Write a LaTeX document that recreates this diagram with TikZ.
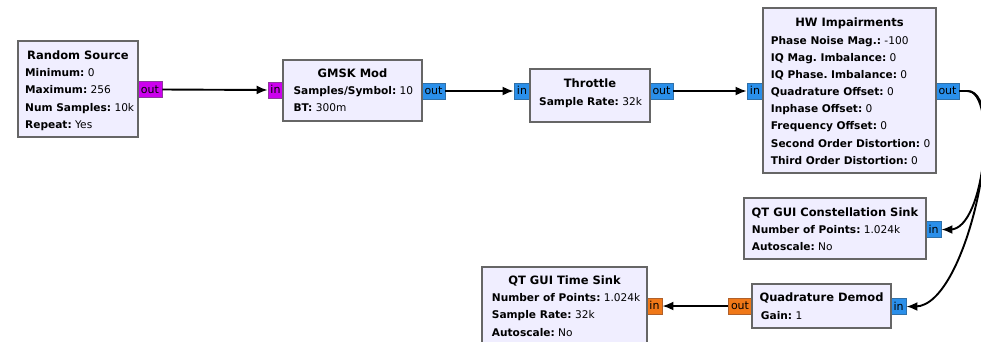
\documentclass[tikz,border=0pt]{standalone}
\usepackage{fontspec}
\setmainfont{DejaVu Sans}
\usetikzlibrary{arrows.meta}
\frenchspacing
\definecolor{blkfill}{HTML}{F0EEFF}
\definecolor{blkline}{HTML}{666666}
\definecolor{pbyte}{HTML}{CC00EE}
\definecolor{pbyteb}{HTML}{8E3A9E}
\definecolor{pcplx}{HTML}{2A8FEA}
\definecolor{pcplxb}{HTML}{3070A8}
\definecolor{pflt}{HTML}{F07818}
\definecolor{pfltb}{HTML}{B0602A}
\tikzset{
  blk/.style={draw=blkline, fill=blkfill, line width=1.6pt, inner sep=0pt},
  ttl/.style={font=\fontsize{11.5}{13}\selectfont\bfseries, inner sep=0pt, text height=8.4pt, text depth=0pt},
  prm/.style={font=\fontsize{10.6}{17.15}\selectfont, inner sep=0pt, align=left, anchor=north west},
  port/.style={inner sep=0pt, line width=0.8pt, font=\fontsize{11}{12}\selectfont, text height=7.7pt, text depth=0pt, minimum height=16pt},
  pb/.style={port, fill=pbyte, draw=pbyteb},
  pc/.style={port, fill=pcplx, draw=pcplxb},
  pf/.style={port, fill=pflt, draw=pfltb},
  conn/.style={line width=1.9pt, -{Latex[length=11pt,width=9pt]}},
}
\begin{document}
\begin{tikzpicture}[x=1pt, y=-1pt]
\useasboundingbox (0,0) rectangle (981,341);
\clip (0,0) rectangle (981,341);
% ports
\node[pb, minimum width=24pt] (rsout) at (150,89.5) {out};
\node[pb, minimum width=15pt] (gmin) at (275.5,90) {in};
\node[pc, minimum width=23pt] (gmout) at (433.5,91) {out};
\node[pc, minimum width=16pt] (thin) at (522,91) {in};
\node[pc, minimum width=23pt] (thout) at (661.5,91) {out};
\node[pc, minimum width=16pt] (hwin) at (755,91) {in};
\node[pc, minimum width=23pt] (hwout) at (947.5,91) {out};
\node[pc, minimum width=15pt] (coin) at (933.5,229.5) {in};
\node[pc, minimum width=15pt] (qdin) at (898.5,306.5) {in};
\node[pf, minimum width=24pt] (qdout) at (740,306) {out};
\node[pf, minimum width=15pt] (tsin) at (654.5,306) {in};
% blocks
\node[blk, minimum width=120pt, minimum height=96pt] (rs) at (78,89) {};
\node[blk, minimum width=139pt, minimum height=61pt] (gm) at (352.5,90.5) {};
\node[blk, minimum width=120pt, minimum height=53pt] (th) at (590,95.5) {};
\node[blk, minimum width=173pt, minimum height=165pt] (hw) at (849.5,90.5) {};
\node[blk, minimum width=182pt, minimum height=61pt] (co) at (835,228.5) {};
\node[blk, minimum width=139pt, minimum height=44pt] (qd) at (821.5,306) {};
\node[blk, minimum width=165pt, minimum height=83pt] (ts) at (564.5,308.5) {};
% titles
\node[ttl] (rst) at (78,55) {Random Source};
\node[ttl] (gmt) at (352.5,73.3) {GMSK Mod};
\node[ttl] (tht) at (590,83.3) {Throttle};
\node[ttl] (hwt) at (849.5,22.7) {HW Impairments};
\node[ttl] (cot) at (835,212.3) {QT GUI Constellation Sink};
\node[ttl] (tst) at (564.5,280) {QT GUI Time Sink};
\node[ttl] (qdt) at (821.5,297.7) {Quadrature Demod};
% parameters
\node[prm] (rsp) at (25,67.6) {\rule{0pt}{9pt}\textbf{Minimum:} 0\\\textbf{Maximum:} 256\\\textbf{Num Samples:} 10k\\\textbf{Repeat:} Yes};
\node[prm] (gmp) at (293.3,85.6) {\rule{0pt}{9pt}\textbf{Samples/Symbol:} 10\\\textbf{BT:} 300m};
\node[prm] (thp) at (539,95.9) {\rule{0pt}{9pt}\textbf{Sample Rate:} 32k};
\node[prm] (hwp) at (770.7,34.9) {\rule{0pt}{9pt}\textbf{Phase Noise Mag.:} -100\\\textbf{IQ Mag. Imbalance:} 0\\\textbf{IQ Phase. Imbalance:} 0\\\textbf{Quadrature Offset:} 0\\\textbf{Inphase Offset:} 0\\\textbf{Frequency Offset:} 0\\\textbf{Second Order Distortion:} 0\\\textbf{Third Order Distortion:} 0};
\node[prm] (cop) at (751.7,224.6) {\rule{0pt}{9pt}\textbf{Number of Points:} 1.024k\\\textbf{Autoscale:} No};
\node[prm] (tsp) at (491.7,292.6) {\rule{0pt}{9pt}\textbf{Number of Points:} 1.024k\\\textbf{Sample Rate:} 32k\\\textbf{Autoscale:} No};
\node[prm] (qdp) at (760.7,309.9) {\rule{0pt}{9pt}\textbf{Gain:} 1};
% connections
\draw[conn] (rsout.east) -- (gmin.west);
\draw[conn] (gmout.east) -- (thin.west);
\draw[conn] (thout.east) -- (hwin.west);
\draw[conn] (hwout.east) -- ++(8,0) .. controls +(30,0) and +(35,0) .. ([xshift=9pt]coin.east) -- (coin.east);
\draw[conn] (hwout.east) -- ++(8,0) .. controls +(43,0) and +(53,0) .. ([xshift=9pt]qdin.east) -- (qdin.east);
\draw[conn] (qdout.west) -- (tsin.east);
\end{tikzpicture}
\end{document}
